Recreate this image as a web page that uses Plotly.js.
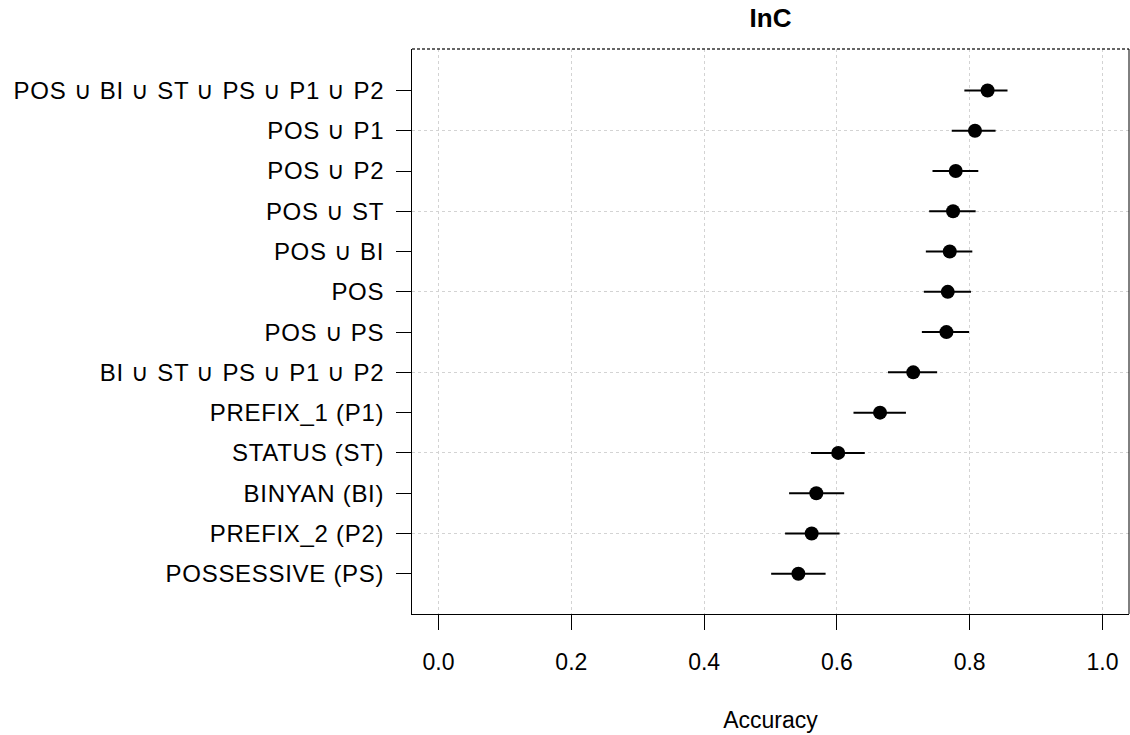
<!DOCTYPE html>
<html>
<head>
<meta charset="utf-8">
<script src="https://cdn.plot.ly/plotly-3.0.1.min.js"></script>
<style>
html,body{margin:0;padding:0;background:#fff;}
#chart{width:1130px;height:735px;}
#chart .ytick text{letter-spacing:0.7px;}
</style>
</head>
<body>
<div id="chart"></div>
<script>
// Categories, top to bottom
var categories = [
  "POS \u222A BI \u222A ST \u222A PS \u222A P1 \u222A P2",
  "POS \u222A P1",
  "POS \u222A P2",
  "POS \u222A ST",
  "POS \u222A BI",
  "POS",
  "POS \u222A PS",
  "BI \u222A ST \u222A PS \u222A P1 \u222A P2",
  "PREFIX_1 (P1)",
  "STATUS (ST)",
  "BINYAN (BI)",
  "PREFIX_2 (P2)",
  "POSSESSIVE (PS)"
];
var accuracy = [0.827, 0.808, 0.779, 0.775, 0.770, 0.767, 0.765, 0.715, 0.665, 0.602, 0.569, 0.562, 0.542];
var lower    = [0.792, 0.773, 0.744, 0.739, 0.734, 0.731, 0.728, 0.677, 0.625, 0.561, 0.528, 0.522, 0.501];
var upper    = [0.857, 0.839, 0.813, 0.809, 0.804, 0.802, 0.799, 0.751, 0.704, 0.642, 0.611, 0.604, 0.583];
var xTicks = [0, 0.2, 0.4, 0.6, 0.8, 1.0];
var xTickText = ["0.0", "0.2", "0.4", "0.6", "0.8", "1.0"];

var n = categories.length;
var ypos = categories.map(function(_, i){ return n - i; });
var evenRows = ypos.filter(function(v){ return v % 2 === 0; });

var FONT = "Liberation Sans, Arial, Helvetica, sans-serif";

var trace = {
  type: "scatter",
  mode: "markers",
  x: accuracy,
  y: ypos,
  marker: {color: "#000", size: 14, line: {width: 0}},
  error_x: {
    type: "data",
    symmetric: false,
    array: upper.map(function(u, i){ return u - accuracy[i]; }),
    arrayminus: lower.map(function(l, i){ return accuracy[i] - l; }),
    color: "#000",
    thickness: 2,
    width: 0
  },
  hoverinfo: "x+text",
  text: categories,
  showlegend: false
};

// invisible trace on the overlaying axis so its grid is drawn
var gridTrace = {
  type: "scatter", mode: "markers", x: [accuracy[0]], y: [ypos[0]],
  yaxis: "y2", marker: {opacity: 0}, hoverinfo: "skip", showlegend: false
};

var layout = {
  width: 1130, height: 735,
  paper_bgcolor: "#fff", plot_bgcolor: "#fff",
  margin: {l: 412, r: 1, t: 49, b: 121},
  font: {family: FONT, size: 23, color: "#000"},
  title: {
    text: "<b>InC</b>",
    font: {family: FONT, size: 26, color: "#000"},
    x: 0.5, xref: "paper", xanchor: "center",
    y: 1 - 18/735, yref: "container", yanchor: "middle"
  },
  xaxis: {
    range: [-0.04, 1.04],
    tickvals: xTicks, ticktext: xTickText,
    showgrid: true, gridcolor: "#d3d3d3", griddash: "dot", gridwidth: 1,
    zeroline: false,
    showline: true, linecolor: "#000", linewidth: 1, mirror: false,
    ticks: "outside", ticklen: 15, tickwidth: 1, tickcolor: "#000",
    ticklabelstandoff: 12,
    tickfont: {family: FONT, size: 23, color: "#000"},
    title: {text: "Accuracy", font: {family: FONT, size: 23, color: "#000"}, standoff: 38}
  },
  yaxis: {
    range: [0, 14.03],
    tickvals: ypos, ticktext: categories,
    showgrid: false, zeroline: false,
    showline: true, linecolor: "#000", linewidth: 1,
    ticks: "outside", ticklen: 15, tickwidth: 1, tickcolor: "#000",
    ticklabelstandoff: 7,
    tickfont: {family: FONT, size: 24, color: "#000"}
  },
  yaxis2: {
    overlaying: "y", range: [0, 14.03],
    tickvals: evenRows, showticklabels: false, ticks: "",
    showgrid: true, gridcolor: "#d3d3d3", griddash: "dot", gridwidth: 1,
    zeroline: false, showline: false
  },
  shapes: [
    {type: "line", xref: "paper", yref: "paper", x0: 0, x1: 1, y0: 1, y1: 1,
     line: {color: "#333", width: 1.5, dash: "3px,2px"}},
    {type: "line", xref: "paper", yref: "paper", x0: 1, x1: 1, y0: 0, y1: 1,
     line: {color: "#000", width: 1}}
  ]
};

Plotly.newPlot("chart", [gridTrace, trace], layout, {displayModeBar: false, staticPlot: true});
</script>
</body>
</html>
